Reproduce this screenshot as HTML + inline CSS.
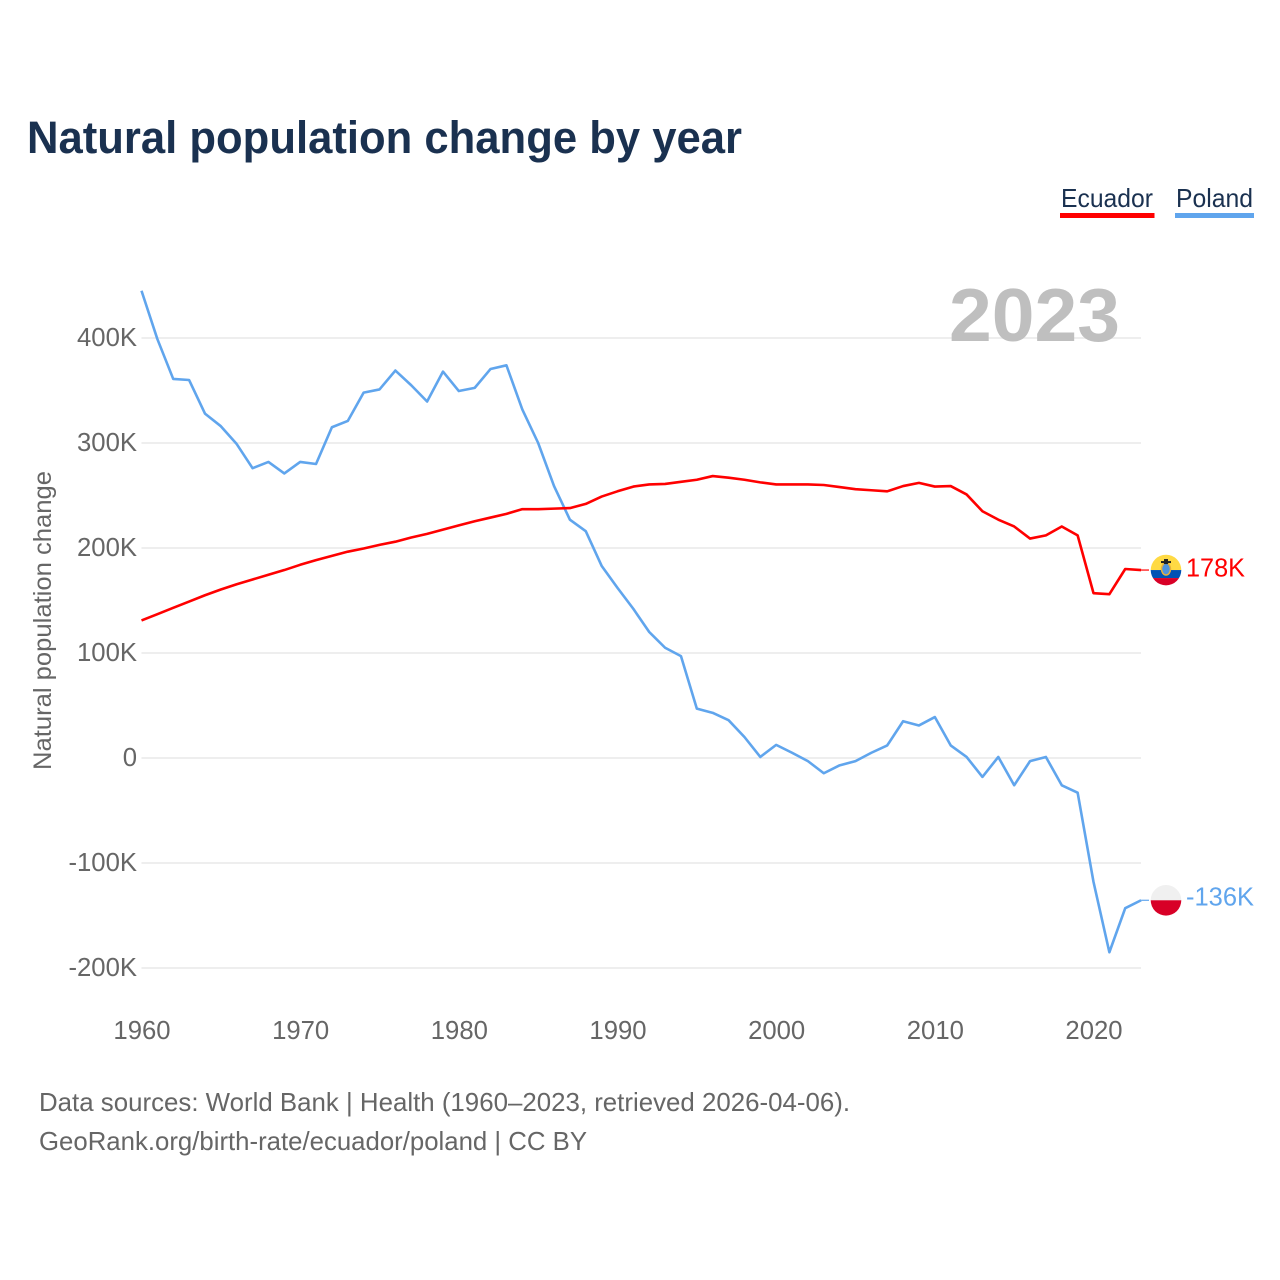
<!DOCTYPE html>
<html lang="en">
<head>
<meta charset="utf-8">
<title>Natural population change by year</title>
<style>
html,body{margin:0;padding:0;background:#fff;}
svg{display:block;font-family:"Liberation Sans",sans-serif;}
</style>
</head>
<body>
<svg id="chart" xmlns="http://www.w3.org/2000/svg" width="1280" height="1280" viewBox="0 0 1280 1280">
  <defs>
    <clipPath id="clip-ecuador"><circle id="clip-ec" cx="1166" cy="570" r="15.3"/></clipPath>
    <clipPath id="clip-poland"><circle id="clip-pl" cx="1166" cy="900" r="15.3"/></clipPath>
  </defs>
  <rect width="1280" height="1280" fill="#fff"/>
  <text x="27" y="153" font-size="45" font-weight="700" fill="#1a3150" textLength="715" lengthAdjust="spacingAndGlyphs">Natural population change by year</text>

  <g>
    <text x="1061" y="207" font-size="26" fill="#1a3150" textLength="92" lengthAdjust="spacingAndGlyphs">Ecuador</text>
    <rect x="1060" y="213" width="94.5" height="5" fill="#ff0000"/>
  </g>
  <g>
    <text x="1176" y="207" font-size="26" fill="#1a3150" textLength="77" lengthAdjust="spacingAndGlyphs">Poland</text>
    <rect x="1175" y="213" width="79" height="5" fill="#60a5ed"/>
  </g>

  <g id="grid"></g>
  <text x="949" y="341" font-size="75" font-weight="700" fill="#bfbfbf" textLength="171" lengthAdjust="spacingAndGlyphs">2023</text>
  <g id="y-ticks"></g>
  <g id="x-ticks"></g>

  <text transform="translate(51,770) rotate(-90)" font-size="25" fill="#666" textLength="299" lengthAdjust="spacingAndGlyphs">Natural population change</text>

  <g id="series"></g>

  <g id="flag-ec" clip-path="url(#clip-ecuador)">
    <rect id="ec-y" x="1150" width="32" height="16" fill="#ffda44"/>
    <rect id="ec-b" x="1150" width="32" height="8" fill="#0052b4"/>
    <rect id="ec-r" x="1150" width="32" height="8" fill="#d80027"/>
    <ellipse id="ec-e1" cx="1166" rx="4.5" ry="6" fill="#4f93dd" stroke="#e8b13a" stroke-width="1.5"/>
    <rect id="ec-e2" x="1161" width="10" height="2" fill="#222"/>
    <rect id="ec-e3" x="1164" width="4" height="5" fill="#222"/>
  </g>
  <g id="flag-pl" clip-path="url(#clip-poland)">
    <rect id="pl-w" x="1150" width="32" height="16" fill="#f0f0f0"/>
    <rect id="pl-r" x="1150" width="32" height="16" fill="#d80027"/>
  </g>

  <text x="39" y="1111" font-size="26" fill="#666" textLength="811" lengthAdjust="spacingAndGlyphs">Data sources: World Bank | Health (1960–2023, retrieved 2026-04-06).</text>
  <text x="39" y="1150" font-size="26" fill="#666" textLength="548" lengthAdjust="spacingAndGlyphs">GeoRank.org/birth-rate/ecuador/poland | CC BY</text>
</svg>
<script>
const firstYear = 1960;
const xTickYears = [1960, 1970, 1980, 1990, 2000, 2010, 2020];
const yTickValues = [400, 300, 200, 100, 0, -100, -200];
const yTickLabels = ["400K", "300K", "200K", "100K", "0", "-100K", "-200K"];
const ecuadorValues = [131,137,143,149,155,160.5,165.5,170,174.5,179,184,188.5,192.5,196.5,199.5,203,206,210,213.5,217.5,221.5,225.5,229,232.5,237,237,237.5,238,242,249,254,258.5,260.5,261,263,265,268.5,267,265,262.5,260.5,260.5,260.5,260,258,256,255,254,259,262,258.5,259,251,235,227,220.5,209,212,220.5,212,157,156,180,179];
const polandValues = [445,399,361,360,328,316,299,276,282,271,282,280,315,321,348,351,369,355,339.5,368,349.5,352.5,370.5,374,332,300,259,227,216,183,162,142,120,105,97,47,43,36,20,1,12.5,5,-3,-14.5,-7,-3,5,12,35,31,39,12,1,-18,1,-26,-3,1,-26,-33,-118,-185,-143,-135.5];
const ecuadorEndLabel = "178K";
const polandEndLabel = "-136K";

const NS = "http://www.w3.org/2000/svg";
function xScale(year) { return 141.5 + (year - 1960) * 999.6 / 63; }
function yScale(v) { return 758 - v * 1.05; }
function mk(tag, attrs, parent, txt) {
  const el = document.createElementNS(NS, tag);
  for (const k in attrs) el.setAttribute(k, attrs[k]);
  if (txt !== undefined) el.textContent = txt;
  parent.appendChild(el);
  return el;
}
const grid = document.getElementById("grid");
const yTicks = document.getElementById("y-ticks");
const xTicks = document.getElementById("x-ticks");
const series = document.getElementById("series");

yTickValues.forEach(function (v, i) {
  const line = mk("line", {x1: 141.5, x2: 1141, y1: yScale(v), y2: yScale(v), stroke: "#eeeeee", "stroke-width": 2}, grid);
  
  
  const label = mk("text", {x: 137, y: yScale(v) + 8, "text-anchor": "end", "font-size": 25.7, fill: "#666"}, yTicks, yTickLabels[i]);
  
  
});
xTickYears.forEach(function (yr) {
  const label = mk("text", {x: xScale(yr) + 0.5, y: 1039, "text-anchor": "middle", "font-size": 25.7, fill: "#666"}, xTicks, String(yr));
  
  
});

function pathFor(vals) {
  return vals.map(function (v, i) {
    return (i ? "L" : "M") + xScale(firstYear + i).toFixed(2) + " " + yScale(v).toFixed(2);
  }).join(" ");
}
const polandLine = mk("path", {d: pathFor(polandValues), fill: "none", stroke: "#60a5ed", "stroke-width": 2.6, "stroke-linejoin": "round"}, series);


const ecuadorLine = mk("path", {d: pathFor(ecuadorValues), fill: "none", stroke: "#ff0000", "stroke-width": 2.6, "stroke-linejoin": "round"}, series);



const lastYear = firstYear + ecuadorValues.length - 1;
const ecY = yScale(ecuadorValues[ecuadorValues.length - 1]);
const plY = yScale(polandValues[polandValues.length - 1]);

const ecLead = mk("line", {x1: xScale(lastYear), x2: 1149, y1: ecY, y2: ecY, stroke: "#ff0000", "stroke-width": 1.2}, series);


const plLead = mk("line", {x1: xScale(lastYear), x2: 1149, y1: plY, y2: plY, stroke: "#60a5ed", "stroke-width": 1.2}, series);



const ecLabel = mk("text", {x: 1186, y: ecY + 6.5, "font-size": 26, fill: "#ff0000", textLength: 59, lengthAdjust: "spacingAndGlyphs"}, series, ecuadorEndLabel);


const plLabel = mk("text", {x: 1186, y: plY + 5, "font-size": 26, fill: "#60a5ed", textLength: 68, lengthAdjust: "spacingAndGlyphs"}, series, polandEndLabel);



function setY(id, y) { document.getElementById(id).setAttribute("y", y); }
document.getElementById("clip-ec").setAttribute("cy", ecY);
document.getElementById("clip-pl").setAttribute("cy", plY);
setY("ec-y", ecY - 16);
setY("ec-b", ecY);
setY("ec-r", ecY + 8);
document.getElementById("ec-e1").setAttribute("cy", ecY - 1);
setY("ec-e2", ecY - 9);
setY("ec-e3", ecY - 11);
setY("pl-w", plY - 16);
setY("pl-r", plY);
</script>
</body>
</html>
